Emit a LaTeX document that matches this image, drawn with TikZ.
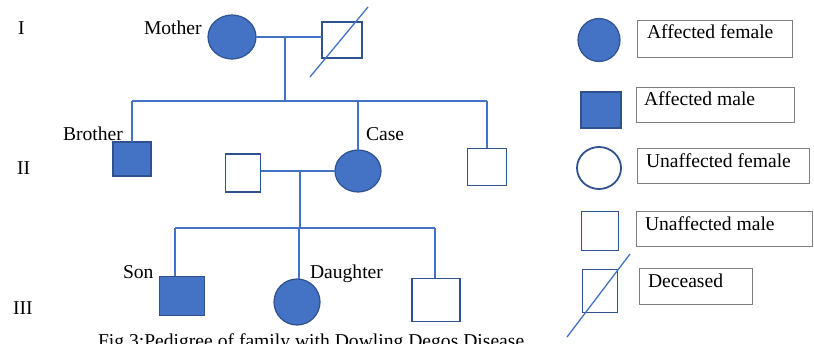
\documentclass[tikz,border=0pt]{standalone}
\usepackage{fontspec}
\setmainfont{Liberation Serif}
\usetikzlibrary{shapes.geometric}
\definecolor{affblue}{HTML}{4472C4}
\definecolor{edgeblue}{HTML}{2F528F}
\definecolor{boxgray}{HTML}{7F7F7F}
\begin{document}
\begin{tikzpicture}[x=1pt,y=-1pt,
  every node/.style={inner sep=0pt,outer sep=0pt},
  lbl/.style={anchor=base west,font=\fontsize{19.6}{22}\selectfont,text=black},
  affF/.style={ellipse,fill=affblue,draw=edgeblue,line width=1.2pt},
  affM/.style={rectangle,fill=affblue,draw=edgeblue,line width=1.5pt},
  unF/.style={ellipse,fill=white,draw=edgeblue,line width=1.8pt},
  unM/.style={rectangle,fill=white,draw=edgeblue,line width=1.8pt},
  conn/.style={draw=affblue,line width=1.5pt},
  slash/.style={draw=affblue,line width=1.3pt},
  legbox/.style={rectangle,draw=boxgray,line width=1pt,anchor=north west}
]
\useasboundingbox (0,0) rectangle (814,344);

% generation labels
\node[lbl] (gI) at (18,35) {I};
\node[lbl] (gII) at (17,175) {II};
\node[lbl] (gIII) at (13,315) {III};

% generation I
\node[affF,minimum width=48pt,minimum height=44pt] (mother) at (232,37) {};
\node[unM,minimum width=40pt,minimum height=36pt] (father) at (342,40) {};
\coordinate (fs1) at (310,77);
\coordinate (fs2) at (368,7);
\draw[slash] (fs1) -- (fs2);
\node[lbl] (tMother) at (144,35) {Mother};

% generation II
\node[affM,minimum width=38pt,minimum height=34pt] (brother) at (132,159) {};
\node[affF,minimum width=46pt,minimum height=42pt] (case) at (358,171) {};
\node[unM,minimum width=39pt,minimum height=37pt] (sib3) at (487,167) {};
\node[unM,minimum width=35pt,minimum height=38pt] (husband) at (243,173) {};
\node[lbl] (tBrother) at (63,141) {Brother};
\node[lbl] (tCase) at (366,141) {Case};

% generation III
\node[affM,minimum width=45pt,minimum height=39pt] (son) at (182,296) {};
\node[affF,minimum width=46pt,minimum height=46pt] (daughter) at (297,302) {};
\node[unM,minimum width=48pt,minimum height=43pt] (sib6) at (436,300) {};
\node[lbl] (tSon) at (123,279) {Son};
\node[lbl] (tDaughter) at (310,279) {Daughter};

% connectors generation I -> II
\coordinate (m1) at (285,37);
\coordinate (s1) at (285,101);
\coordinate (sL) at (132,101);
\coordinate (sC) at (358,101);
\coordinate (sR) at (487,101);
\draw[conn] (mother.east |- m1) -- (father.west |- m1);
\draw[conn] (m1) -- (s1);
\draw[conn] (sL) -- (sR);
\draw[conn] (sL) -- (brother.north);
\draw[conn] (sC) -- (case.north);
\draw[conn] (sR) -- (sib3.north);

% connectors generation II -> III
\coordinate (m2) at (300,171);
\coordinate (s2) at (300,228);
\coordinate (cL) at (175,228);
\coordinate (cC) at (299,228);
\coordinate (cR) at (435,228);
\draw[conn] (husband.east |- m2) -- (case.west |- m2);
\draw[conn] (m2) -- (s2);
\draw[conn] (cL) -- (cR);
\draw[conn] (cL) -- (son.north -| cL);
\draw[conn] (cC) -- (daughter.north -| cC);
\draw[conn] (cR) -- (sib6.north -| cR);

% legend symbols
\node[affF,minimum width=42pt,minimum height=43pt] (lg1) at (599,40) {};
\node[affM,minimum width=40pt,minimum height=36pt] (lg2) at (601,110) {};
\node[unF,minimum width=44pt,minimum height=42pt] (lg3) at (599,168) {};
\node[unM,minimum width=37pt,minimum height=39pt] (lg4) at (600,231) {};
\node[unM,minimum width=35pt,minimum height=43pt] (lg5) at (600,291) {};
\coordinate (ls1) at (567,337);
\coordinate (ls2) at (630,254);
\draw[slash] (ls1) -- (ls2);

% legend boxes
\node[legbox,minimum width=155pt,minimum height=37pt] (b1) at (637,21) {};
\node[legbox,minimum width=158pt,minimum height=35pt] (b2) at (636,88) {};
\node[legbox,minimum width=172pt,minimum height=35pt] (b3) at (637,149) {};
\node[legbox,minimum width=176pt,minimum height=35pt] (b4) at (636,212) {};
\node[legbox,minimum width=113pt,minimum height=36pt] (b5) at (639,269) {};
\node[lbl] (t1) at (647,39) {Affected female};
\node[lbl] (t2) at (644,106) {Affected male};
\node[lbl] (t3) at (646,168) {Unaffected female};
\node[lbl] (t4) at (645,231) {Unaffected male};
\node[lbl] (t5) at (648,288) {Deceased};

% caption (cut by page edge)
\node[lbl] (cap) at (98,348) {Fig 3:Pedigree of family with Dowling Degos Disease};
\end{tikzpicture}
\end{document}
